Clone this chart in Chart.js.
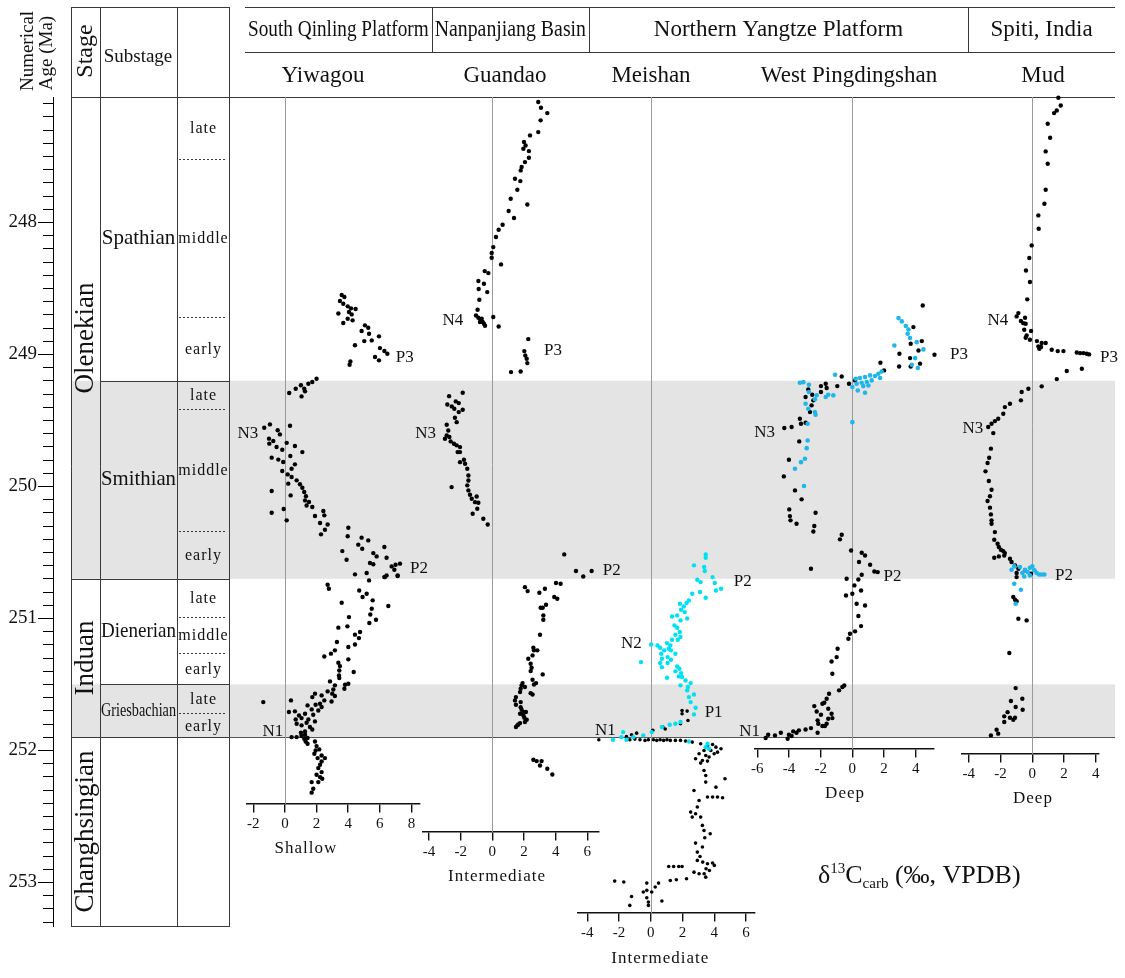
<!DOCTYPE html>
<html>
<head>
<meta charset="utf-8">
<script src="https://cdn.jsdelivr.net/npm/chart.js@4.4.1/dist/chart.umd.min.js"></script>
<style>
  html, body { margin: 0; padding: 0; background: #fff; }
  #wrap { position: relative; width: 1125px; height: 978px; overflow: hidden; }
  #wrap canvas { position: absolute; top: 0; }
</style>
</head>
<body>
<div id="wrap"><canvas id="frame" width="1125" height="978" style="left:0"></canvas></div>
<script>
const SERIF = '"Liberation Serif", "Times New Roman", serif';
const AGE_MIN = 247.05, AGE_MAX = 253.33;
const PAD_TOP = 97, PAD_BOTTOM = 52;

// time scale
const ageTickLabels = [248, 249, 250, 251, 252, 253];
const stageNames = ['Olenekian', 'Induan', 'Changhsingian'];
const stageBase = [250.7, 251.9, 253.33];
const substageNames = ['Spathian', 'Smithian', 'Dienerian', 'Griesbachian', ''];
const substageBase = [249.2, 250.7, 251.5, 251.9, 253.33];
const subdivNames = [['late', 'middle', 'early'], ['late', 'middle', 'early'], ['late', 'middle', 'early'], ['late', 'early'], []];
const subdivBounds = [[247.52, 248.72], [249.41, 250.34], [250.99, 251.265], [251.72], []];
const grayBands = [[249.2, 250.7], [251.5, 251.9]];
const ptbAge = 251.9;

const regionNames = ['South Qinling Platform', 'Nanpanjiang Basin', 'Northern Yangtze Platform', 'Spiti, India'];
const siteNames = ['Yiwagou', 'Guandao', 'Meishan', 'West Pingdingshan', 'Mud'];

// Yiwagou
const yiwagouAge = [248.55,248.565,248.595,248.616,248.636,248.651,248.656,248.679,248.69,248.697,248.73,248.742,248.762,248.78,248.798,248.823,248.843,248.899,248.894,248.863,248.931,248.952,248.974,248.995,249.02,249.045,249.053,249.078,
  249.184,249.209,249.222,249.234,249.26,249.26,249.28,249.292,249.318,249.54,249.53,249.555,249.575,249.606,249.638,249.676,249.656,249.701,249.722,249.67,
  249.694,249.74,249.782,249.797,249.815,249.77,249.833,249.866,249.883,249.909,249.929,249.979,249.954,249.984,250.01,250.042,250.075,250.035,250.068,250.106,
  250.118,250.156,250.144,250.199,250.171,250.257,250.186,250.219,250.224,250.288,250.277,250.328,250.363,250.313,250.378,250.388,250.409,250.441,250.472,250.49,
  250.555,250.459,250.505,250.53,250.54,250.58,250.59,250.606,250.593,250.585,250.631,250.674,250.686,250.656,250.666,
  250.712,250.687,250.674,250.679,250.745,250.775,250.788,250.838,250.813,250.863,250.881,250.906,250.927,250.97,251.01,251.035,250.99,251.06,251.07,251.103,
  251.123,251.149,251.197,251.217,251.179,251.242,251.267,251.288,251.31,251.336,251.361,251.394,251.406,251.432,251.452,251.477,251.507,251.502,251.495,251.533,
  251.538,251.553,251.57,251.57,251.583,251.596,251.588,251.629,251.621,251.646,251.654,251.671,251.697,251.689,251.659,251.621,251.634,251.709,251.704,251.722,
  251.73,251.735,251.755,251.765,251.765,251.78,251.79,251.798,251.81,251.823,251.841,251.856,251.866,251.881,251.891,251.899,251.899,251.906,251.911,251.932,
  251.949,251.932,251.967,252.0,251.992,252.025,252.038,252.058,252.058,252.083,252.108,252.134,252.164,252.184,252.202,252.215,252.24,252.24,252.29,252.32];
const yiwagouC = [3.59,3.76,3.48,3.69,3.97,4.18,4.47,4.05,3.38,4.22,3.97,4.28,3.69,5.06,5.27,4.85,5.32,5.02,5.49,5.95,4.43,6.01,6.29,6.48,5.70,5.95,4.14,4.09,
  2.0,1.73,1.48,1.01,1.22,0.68,1.27,0.27,1.05,0.32,-0.95,-1.31,-0.46,-0.32,-1.01,-0.99,-0.74,-0.53,-0.17,0.11,
  0.63,1.10,-0.84,-0.42,-0.11,0.34,0.63,0.42,-0.17,0.17,0.42,0.21,0.74,0.95,1.10,1.22,1.33,-0.84,0.36,1.27,
  1.52,1.73,1.37,-0.84,-0.08,0.11,2.43,2.49,1.90,2.70,2.22,2.53,2.28,4.01,3.97,4.85,5.27,4.64,4.89,3.63,
  3.90,6.29,5.59,5.80,6.43,5.38,5.59,6.75,7.0,7.28,6.92,7.13,6.33,5.17,4.43,
  5.32,6.29,6.43,7.13,2.70,2.78,4.70,4.91,5.17,5.55,3.59,6.54,5.49,5.40,5.76,5.34,4.05,3.95,3.38,4.75,
  4.43,4.68,4.43,4.01,3.29,3.16,2.91,2.49,4.01,3.38,3.48,3.44,4.35,3.42,3.44,2.85,3.16,3.80,4.01,3.76,
  3.06,2.70,2.99,1.90,2.32,1.73,3.16,2.95,2.49,2.22,1.94,2.32,2.11,1.69,1.43,0.38,-1.37,0.25,0.63,1.27,
  1.79,0.89,1.05,0.68,1.48,1.90,1.37,0.74,1.05,1.58,1.73,1.27,1.01,1.27,1.05,0.74,0.42,1.43,1.22,1.31,
  1.43,1.90,2.0,1.94,2.17,1.86,2.32,2.53,2.07,2.32,2.22,2.11,2.32,2.0,2.22,2.36,2.11,1.69,1.79,1.69];

// Guandao
const guandaoAge = [247.088,247.131,247.172,247.227,247.316,247.341,247.391,247.417,247.442,247.46,247.51,247.543,247.58,247.606,247.669,247.687,247.753,247.821,247.864,247.914,
  247.967,248.018,248.056,248.111,248.187,248.232,248.268,248.318,248.369,248.384,248.444,248.465,248.505,248.528,248.586,248.662,248.705,248.722,248.737,248.755,
  248.755,248.768,248.783,248.73,248.717,248.788,248.884,248.975,249.008,249.033,249.066,249.129,249.134,
  249.29,249.316,249.356,249.369,249.379,249.394,249.412,249.419,249.437,249.48,249.513,249.533,249.576,249.614,249.639,249.626,249.659,249.677,249.689,249.702,
  249.74,249.74,249.816,249.798,249.828,249.866,249.917,249.955,250.005,249.992,250.03,250.063,250.076,250.093,250.119,250.124,250.169,250.207,250.245,250.288,
  250.515,250.641,250.682,250.641,250.732,250.737,250.763,250.793,250.805,250.775,250.838,250.851,250.896,250.919,250.919,250.977,251.01,251.124,251.222,251.242,
  251.242,251.28,251.305,251.343,251.374,251.399,251.424,251.465,251.49,251.5,251.49,251.507,251.52,251.533,251.558,251.566,251.576,251.596,251.621,251.634,
  251.654,251.672,251.692,251.709,251.709,251.722,251.735,251.752,251.768,251.785,251.793,251.803,251.823,251.81,252.071,252.081,252.081,252.114,252.139,252.182];
const guandaoC = [2.90,3.07,3.47,3.05,2.90,2.38,2.0,2.10,1.96,2.31,2.31,2.06,1.85,1.79,1.43,1.77,1.58,1.16,2.21,1.03,
  1.37,0.65,0.40,0.23,0.06,-0.04,-0.04,0.55,-0.48,-0.25,-0.88,-0.53,-0.86,-0.32,-0.82,-0.93,-1.03,-0.88,-0.74,-0.61,
  -0.78,-0.53,-0.46,-0.67,0.06,0.40,2.27,2.02,2.08,2.17,2.21,1.79,1.18,
  -1.87,-2.73,-2.31,-2.12,-2.84,-2.56,-2.40,-1.87,-2.12,-2.36,-2.25,-2.88,-2.78,-2.88,-2.99,-2.71,-2.63,-2.42,-2.25,-2.04,
  -2.19,-2.04,-2.04,-1.79,-1.72,-1.58,-1.51,-1.51,-2.57,-1.58,-1.51,-1.41,-0.99,-1.30,-1.09,-0.88,-0.95,-1.24,-0.57,-0.29,
  4.54,5.28,5.74,6.27,4.02,4.31,2.06,2.23,2.97,3.32,3.91,4.10,3.39,3.18,3.05,3.22,3.22,3.01,2.59,2.63,
  2.84,2.54,2.27,2.42,2.48,2.42,3.18,2.54,2.76,2.63,1.91,1.85,2.06,1.79,1.75,2.42,2.54,1.49,1.43,1.79,
  1.49,1.79,1.85,1.96,2.12,1.75,1.96,2.02,2.17,2.06,1.75,1.64,1.49,1.58,2.59,2.80,3.11,3.01,3.47,3.79];

// Meishan
const meishanCyanAge = [250.515,250.54,250.598,250.611,250.641,250.687,250.707,250.725,250.732,250.775,250.788,250.8,250.813,250.843,250.864,250.884,250.889,250.909,250.934,250.952,
  250.985,250.977,251.0,251.015,251.053,251.071,251.103,251.124,251.141,251.162,251.162,251.187,251.205,251.197,251.205,251.222,251.23,251.242,251.242,251.268,
  251.268,251.293,251.305,251.313,251.331,251.338,251.338,251.369,251.364,251.381,251.401,251.414,251.449,251.439,251.444,251.47,251.507,251.52,251.49,251.545,
  251.576,251.596,251.634,251.677,251.727,251.785,251.798,251.806,251.823,251.861,251.886,251.899,251.919,251.861,251.899,251.919,251.932,251.949,251.975,251.987];
const meishanCyanC = [3.46,3.46,2.72,3.36,3.40,3.89,2.93,3.14,4.03,4.42,4.10,3.10,2.61,3.46,2.40,2.25,1.83,2.08,1.91,2.14,
  1.34,1.66,2.29,1.87,1.49,1.66,1.83,1.55,1.87,1.70,1.34,1.02,1.23,0.02,0.42,0.59,1.13,0.85,1.27,1.55,
  0.66,1.06,0.70,1.27,-0.62,0.59,1.06,0.70,1.66,1.80,1.55,1.91,1.02,1.76,1.97,2.19,1.87,2.34,2.51,2.29,
  2.72,2.40,2.51,2.82,2.72,1.87,1.55,1.19,0.70,0.06,-0.47,-1.10,-1.53,-1.74,-1.85,-2.38,2.40,3.57,3.46,3.67];
const meishanAge = [251.697,251.722,251.702,251.773,251.798,251.823,251.838,251.848,251.869,251.881,251.894,251.919,
  251.919,251.914,251.919,251.924,251.919,251.919,251.924,251.919,251.924,251.919,251.924,251.924,251.924,251.929,251.937,
  251.949,251.962,251.955,251.975,251.987,252.0,252.0,252.025,252.013,252.025,252.038,252.05,252.063,252.076,252.081,252.096,
  252.152,252.19,252.24,252.215,252.278,252.303,252.353,252.353,252.358,252.353,252.379,252.429,252.467,252.48,252.505,252.505,252.568,252.606,252.631,252.662,
  252.702,252.732,252.77,252.803,252.833,252.846,252.858,252.853,252.871,252.896,252.909,252.934,252.934,252.96,252.922,
  252.879,252.879,252.879,252.879,252.972,252.98,252.985,252.99,252.997,253.005,253.005,253.035,253.06,253.073,253.073,253.106,253.116,253.141,253.149,253.174,253.174];
const meishanC = [1.97,1.97,2.29,2.34,1.87,0.76,0.91,0.13,-0.89,-1.21,-1.53,-3.27,
  -1.32,-1.0,-0.68,-0.36,-0.15,0.17,0.38,0.59,0.81,1.02,1.23,1.55,1.87,2.19,2.61,
  3.14,3.57,3.89,4.10,4.42,3.35,3.78,3.99,4.20,3.04,3.46,3.67,2.82,3.25,3.57,3.14,
  3.35,3.46,3.46,4.67,4.10,2.72,3.89,4.20,4.52,3.57,3.04,2.93,2.51,2.82,3.14,2.61,3.25,3.35,3.74,3.40,
  2.82,3.25,2.93,3.10,2.93,3.27,3.57,3.89,4.0,3.48,3.69,3.36,3.04,3.46,2.72,
  1.13,1.44,1.76,1.97,2.25,1.61,1.23,-2.27,-1.70,-0.25,0.49,0.28,-0.25,0.06,-0.47,-1.21,-0.25,0.70,-0.15,-1.32,-0.15];

// West Pingdingshan
const wpCyanAge = [248.725,248.75,248.785,248.811,248.843,248.876,248.907,248.932,248.962,249.028,249.103,249.078,248.995,249.129,249.146,249.164,249.159,249.172,249.179,249.184,
  249.179,249.197,249.209,249.215,249.222,249.235,249.24,249.247,249.273,249.29,249.154,249.215,249.21,249.23,249.285,249.31,249.34,249.374,249.412,249.437,
  249.457,249.525,249.323,249.306,249.31,249.513,249.652,249.71,249.79,249.816,249.866,249.997];
const wpCyanC = [2.91,3.12,3.37,3.54,3.49,3.64,4.06,2.65,4.48,3.96,4.13,3.75,5.68,1.85,1.64,1.43,1.12,0.80,0.48,0.21,
  1.75,1.22,0.91,0.59,0.27,1.01,0.69,0.0,0.34,0.80,-1.09,-3.31,-3.09,-2.74,-2.74,-2.25,-2.36,-2.95,-2.78,-2.36,
  -2.32,-2.82,-1.68,-1.52,-1.20,0.0,-2.82,-2.88,-2.99,-3.24,-3.62,-3.05];
const wpAge = [248.629,248.793,248.899,248.919,248.97,248.995,249.028,249.002,249.07,249.091,249.091,249.063,249.121,249.167,249.222,249.197,249.24,249.222,249.24,249.255,
  249.285,249.265,249.306,249.323,249.348,249.386,249.437,249.487,249.525,249.518,249.558,249.55,249.659,249.798,249.924,250.03,250.098,250.174,250.225,250.257,
  250.283,250.2,250.3,250.341,250.366,250.401,250.624,250.485,250.502,250.523,250.573,250.593,250.644,250.649,250.669,250.705,250.699,250.75,250.788,250.813,
  250.826,250.902,250.889,250.982,251.058,251.098,251.116,251.154,251.23,251.293,251.326,251.419,251.545,251.508,251.52,251.571,251.609,251.639,251.646,251.664,
  251.705,251.73,251.684,251.722,251.755,251.76,251.772,251.798,251.815,251.815,251.798,251.866,251.831,251.841,251.848,251.866,251.856,251.881,251.912,251.891,
  251.866,251.886,251.881,251.906];
const wpC = [4.44,3.85,4.38,3.68,4.17,2.97,3.64,5.18,4.27,3.68,2.95,1.77,2.0,-0.67,-0.21,0.17,-0.95,-1.68,-1.98,-1.62,
  -1.98,-2.78,-2.53,-2.95,-2.46,-2.57,-2.67,-3.31,-3.24,-2.95,-4.29,-3.83,-3.35,-4.0,-4.32,-3.62,-3.20,-3.98,-3.94,-3.90,
  -3.52,-2.32,-2.40,-2.46,-0.67,-0.78,-2.61,-0.08,0.59,0.80,0.42,1.12,1.39,1.60,0.59,0.38,-0.36,0.13,0.55,0.0,
  -0.40,0.80,0.27,0.38,0.55,0.17,-0.15,-0.25,-0.93,-0.99,-1.31,-1.26,-0.84,-0.51,-0.63,-1.47,-1.62,-1.77,-1.89,-2.40,
  -2.25,-1.98,-1.52,-1.31,-1.26,-1.52,-2.19,-2.15,-1.89,-1.73,-1.62,-2.19,-2.61,-2.95,-3.37,-3.52,-3.73,-4.0,-4.08,-3.83,
  -4.51,-4.88,-5.31,-5.47];

// Mud (Spiti)
const mudAge = [247.056,247.114,247.152,247.172,247.253,247.359,247.462,247.556,247.753,247.859,247.947,248.048,248.174,248.27,248.364,248.452,248.583,248.687,248.712,248.722,
  248.747,248.763,248.768,248.813,248.823,248.856,248.874,248.889,248.899,248.914,248.914,248.939,248.944,248.957,248.965,248.975,248.975,248.985,248.99,248.99,
  248.995,249.0,249.109,249.126,249.187,249.242,249.26,249.285,249.348,249.374,249.399,249.449,249.487,
  249.505,249.525,249.55,249.596,249.714,249.783,249.823,249.886,249.959,250.025,250.075,250.111,250.161,250.212,250.257,250.283,250.346,250.404,250.434,250.459,
  250.48,250.49,250.505,250.523,250.53,250.54,250.548,250.573,250.598,250.624,250.687,250.838,250.858,250.869,251.002,251.015,251.262,251.528,251.608,251.626,
  251.671,251.692,251.71,251.742,251.752,251.768,251.752,251.785,251.843,251.873,251.886,250.661,250.636,250.656];
const mudC = [1.64,1.79,1.54,1.37,0.97,1.12,0.84,0.97,0.84,0.76,0.38,0.40,-0.04,-0.19,-0.40,-0.15,-0.32,-0.88,-0.99,-0.46,
  -0.72,-0.57,-0.42,-0.51,-0.08,-0.36,-0.42,-0.15,0.29,0.59,0.84,0.38,0.55,0.44,1.22,1.60,1.96,2.80,3.01,3.22,
  3.43,3.58,3.12,2.17,1.54,0.59,-0.25,-0.67,-0.72,-1.41,-1.73,-1.83,-2.15,
  -2.36,-2.57,-2.78,-2.46,-2.61,-2.72,-2.82,-2.95,-2.74,-2.57,-2.67,-2.82,-2.67,-2.61,-2.57,-2.57,-2.36,-2.40,-2.19,-2.11,
  -1.98,-1.83,-1.73,-1.77,-2.11,-2.40,-1.41,-1.31,-1.09,-0.88,-0.99,-1.20,-1.09,-0.99,-0.88,-0.36,-1.45,-1.05,-0.63,-1.35,
  -1.05,-0.61,-1.56,-1.77,-1.41,-1.20,-1.09,-1.77,-2.25,-2.15,-2.61,-0.08,-0.46,-0.99];
const mudCyanAge = [250.631,250.606,250.611,250.631,250.656,250.682,250.649,250.616,250.606,250.636,250.656,250.667,250.667,250.667,250.674,250.737,250.783,250.889];
const mudCyanC = [-1.31,-1.14,-0.78,-0.46,-0.63,-0.51,-0.29,-0.15,0.0,0.13,0.27,0.42,0.59,0.76,-0.15,-1.14,-0.72,-1.05];

// page layout (pixels)
const COL = [71, 100, 177, 229];
const RIGHT = 1115, HEAD_L = 245, TOP = 7, HEAD_MID = 52;
const regionEdges = [245, 431.7, 589, 968, 1115];
const siteCenters = [323, 505, 651, 849, 1043];

const wrap = document.getElementById('wrap');

function line(ctx, x0, y0, x1, y1) {
  ctx.beginPath(); ctx.moveTo(x0, y0); ctx.lineTo(x1, y1); ctx.stroke();
}
function crisp(v) { return Math.round(v) + 0.5; }

function vText(ctx, text, x, y, font, maxW) {
  ctx.save();
  ctx.translate(x, y);
  ctx.rotate(-Math.PI / 2);
  ctx.font = font;
  ctx.textAlign = 'center';
  ctx.textBaseline = 'middle';
  ctx.fillText(text, 0, 0, maxW);
  ctx.restore();
}

const frameDecor = {
  id: 'frameDecor',
  beforeDraw(chart) {
    const { ctx } = chart;
    const y = v => chart.scales.y.getPixelForValue(v);
    ctx.save();
    // grey bands
    ctx.fillStyle = '#e4e4e4';
    grayBands.forEach(([a, b]) => ctx.fillRect(COL[0], y(a), RIGHT - COL[0], y(b) - y(a)));

    ctx.strokeStyle = '#3a3a3a';
    ctx.lineWidth = 1;
    const yTop = crisp(y(AGE_MIN)), yBot = crisp(y(AGE_MAX));
    COL.forEach(c => line(ctx, crisp(c), TOP, crisp(c), yBot));
    line(ctx, COL[0], crisp(TOP), COL[3] + 1, crisp(TOP));
    line(ctx, COL[0], yTop, RIGHT, yTop);
    line(ctx, COL[0], yBot, COL[3] + 1, yBot);
    // header
    line(ctx, HEAD_L, crisp(TOP), RIGHT, crisp(TOP));
    line(ctx, HEAD_L, crisp(HEAD_MID), RIGHT, crisp(HEAD_MID));
    regionEdges.slice(1, -1).forEach(e => line(ctx, crisp(e), TOP, crisp(e), HEAD_MID));
    // stage / substage boundaries
    stageBase.slice(0, -1).forEach(b => line(ctx, COL[0], crisp(y(b)), COL[3], crisp(y(b))));
    substageBase.slice(0, -1).forEach(b => line(ctx, COL[1], crisp(y(b)), COL[3], crisp(y(b))));
    ctx.setLineDash([2, 2]);
    subdivBounds.flat().forEach(b => line(ctx, COL[2] + 2, crisp(y(b)), COL[3] - 2, crisp(y(b))));
    ctx.setLineDash([]);
    // Permian-Triassic boundary across the sections
    ctx.strokeStyle = '#555';
    line(ctx, COL[3], crisp(y(ptbAge)), RIGHT, crisp(y(ptbAge)));

    // texts
    ctx.fillStyle = '#111';
    let top = AGE_MIN;
    stageNames.forEach((n, i) => {
      vText(ctx, n, 86, (y(top) + y(stageBase[i])) / 2, '27px ' + SERIF);
      top = stageBase[i];
    });
    vText(ctx, 'Stage', 86, 51, '24px ' + SERIF);
    vText(ctx, 'Numerical', 28, 51, '19px ' + SERIF);
    vText(ctx, 'Age (Ma)', 47, 53, '19px ' + SERIF);

    ctx.textAlign = 'center';
    ctx.textBaseline = 'middle';
    ctx.font = '19px ' + SERIF;
    ctx.fillText('Substage', 138, 57, 74);
    top = AGE_MIN;
    substageNames.forEach((n, i) => {
      const base = substageBase[i];
      if (n) {
        ctx.font = (n === 'Griesbachian' ? '18px ' : '21px ') + SERIF;
        ctx.fillText(n, 138.5, (y(top) + y(base)) / 2, 75);
      }
      const edges = [top, ...subdivBounds[i], base];
      ctx.font = '16px ' + SERIF;
      ctx.letterSpacing = '1px';
      subdivNames[i].forEach((s, j) => {
        ctx.fillText(s, 203.5, (y(edges[j]) + y(edges[j + 1])) / 2 + 1);
      });
      ctx.letterSpacing = '0px';
      top = base;
    });

    // section header
    regionNames.forEach((n, i) => {
      const x0 = regionEdges[i], x1 = regionEdges[i + 1];
      ctx.font = '23px ' + SERIF;
      ctx.fillText(n, (x0 + x1) / 2, 30, x1 - x0 - 6);
    });
    ctx.font = '23px ' + SERIF;
    siteNames.forEach((n, i) => ctx.fillText(n, siteCenters[i], 76));

    // isotope label
    ctx.textAlign = 'left';
    ctx.textBaseline = 'alphabetic';
    let x = 818;
    const base = 883;
    const put = (t, f, dy) => { ctx.font = f; ctx.fillText(t, x, base + dy); x += ctx.measureText(t).width; };
    put('\u03b4', '26px ' + SERIF, 0);
    put('13', '15px ' + SERIF, -10);
    put('C', '26px ' + SERIF, 0);
    put('carb', '15px ' + SERIF, 5);
    put(' (\u2030, VPDB)', '26px ' + SERIF, 0);
    ctx.restore();
  },
  afterDraw(chart) {
    // longer ticks at whole millions of years
    const { ctx } = chart;
    const sc = chart.scales.y;
    ctx.save();
    ctx.strokeStyle = '#000';
    ctx.lineWidth = 1;
    ageTickLabels.forEach(v => {
      const yy = crisp(sc.getPixelForValue(v));
      line(ctx, sc.right - 15, yy, sc.right - 9, yy);
    });
    ctx.restore();
  }
};

new Chart(document.getElementById('frame'), {
  type: 'scatter',
  data: { datasets: [] },
  options: {
    responsive: false,
    animation: false,
    events: [],
    layout: { padding: { left: 0, right: 10, top: PAD_TOP, bottom: PAD_BOTTOM } },
    plugins: { legend: { display: false }, tooltip: { enabled: false } },
    scales: {
      x: { display: false, min: 0, max: 1 },
      y: {
        type: 'linear',
        min: AGE_MIN,
        max: AGE_MAX,
        reverse: true,
        afterFit(scale) { scale.width = 53; },
        border: { color: '#000', width: 1 },
        grid: { drawOnChartArea: false, color: '#000', tickLength: 10 },
        ticks: {
          stepSize: 0.1,
          includeBounds: false,
          autoSkip: false,
          padding: 6,
          color: '#111',
          font: { family: SERIF, size: 19 },
          callback(v) {
            const r = Math.round(v * 10) / 10;
            return ageTickLabels.includes(r) ? String(r) : '';
          }
        }
      }
    }
  },
  plugins: [frameDecor]
});

// one Chart per section, sharing the same age scale
const panels = [
  { from: 246.7, to: 419.3, min: -2.42, max: 8.5, axisAge: 252.404, title: 'Shallow', titleAt: 1.33,
    series: [{ age: yiwagouAge, c: yiwagouC, color: '#000', r: 2.2 }],
    notes: [['P3', 7.01, 249.02, 'left'], ['N3', -1.69, 249.6, 'right'], ['P2', 7.91, 250.62, 'left'], ['N1', -0.11, 251.86, 'right']] },
  { from: 422.3, to: 598.3, min: -4.42, max: 6.69, axisAge: 252.618, title: 'Intermediate', titleAt: 0.3,
    series: [{ age: guandaoAge, c: guandaoC, color: '#000', r: 2.2 }],
    notes: [['N4', -1.83, 248.742, 'right'], ['P3', 3.26, 248.97, 'left'], ['N3', -3.55, 249.6, 'right'], ['P2', 6.97, 250.64, 'left']] },
  { from: 578, to: 755, min: -4.58, max: 6.56, axisAge: 253.232, title: 'Intermediate', titleAt: 0.6,
    series: [{ age: meishanCyanAge, c: meishanCyanC, color: '#00e1f2', r: 2.2 },
             { age: meishanAge, c: meishanC, color: '#000', r: 1.8 }],
    notes: [['P2', 5.22, 250.717, 'left'], ['N2', -0.57, 251.187, 'right'], ['P1', 3.39, 251.71, 'left'], ['N1', -2.21, 251.85, 'right']] },
  { from: 755, to: 934, min: -6.14, max: 5.15, axisAge: 251.989, title: 'Deep', titleAt: -0.46,
    series: [{ age: wpCyanAge, c: wpCyanC, color: '#1fb6ea', r: 2.3 },
             { age: wpAge, c: wpC, color: '#000', r: 2.2 }],
    notes: [['P3', 6.16, 249.0, 'left'], ['N3', -4.88, 249.59, 'right'], ['P2', 1.96, 250.68, 'left'], ['N1', -5.82, 251.86, 'right']] },
  { from: 961.7, to: 1099, min: -4.45, max: 4.2, axisAge: 252.027, title: 'Deep', titleAt: 0.04,
    series: [{ age: mudCyanAge, c: mudCyanC, color: '#1fb6ea', r: 2.3 },
             { age: mudAge, c: mudC, color: '#000', r: 2.2 }],
    notes: [['N4', -1.51, 248.742, 'right'], ['P3', 4.27, 249.02, 'left'], ['N3', -3.09, 249.56, 'right'], ['P2', 1.43, 250.674, 'left']] }
];

function panelDecor(p) {
  return {
    id: 'panelDecor',
    beforeDatasetsDraw(chart) {
      const { ctx, scales: { x, y } } = chart;
      const zx = crisp(x.getPixelForValue(0));
      ctx.save();
      ctx.strokeStyle = '#9a9a9a';
      ctx.lineWidth = 1;
      line(ctx, zx, y.getPixelForValue(AGE_MIN), zx, y.getPixelForValue(p.axisAge));
      ctx.restore();
    },
    afterDraw(chart) {
      const { ctx, scales: { x, y } } = chart;
      ctx.save();
      ctx.fillStyle = '#111';
      ctx.textBaseline = 'middle';
      ctx.font = '17px ' + SERIF;
      p.notes.forEach(([t, v, a, align]) => {
        ctx.textAlign = align;
        ctx.fillText(t, x.getPixelForValue(v), y.getPixelForValue(a));
      });
      ctx.textAlign = 'center';
      ctx.letterSpacing = '1px';
      ctx.fillText(p.title, x.getPixelForValue(p.titleAt), y.getPixelForValue(p.axisAge) + 45);
      ctx.restore();
    }
  };
}

panels.forEach(p => {
  const cv = document.createElement('canvas');
  const left = Math.floor(p.from) - 50;
  const right = Math.ceil(p.to) + 50;
  cv.width = right - left;
  cv.height = 978;
  cv.style.left = left + 'px';
  wrap.appendChild(cv);
  new Chart(cv, {
    type: 'scatter',
    data: {
      datasets: p.series.map(s => ({
        data: s.age.map((a, i) => ({ x: s.c[i], y: a })),
        backgroundColor: s.color,
        borderWidth: 0,
        pointRadius: s.r,
        clip: false
      }))
    },
    options: {
      responsive: false,
      animation: false,
      events: [],
      layout: { padding: { left: p.from - left, right: right - p.to, top: PAD_TOP, bottom: PAD_BOTTOM } },
      plugins: { legend: { display: false }, tooltip: { enabled: false } },
      scales: {
        x: {
          type: 'linear',
          min: p.min,
          max: p.max,
          position: { y: p.axisAge },
          border: { color: '#111', width: 1.4 },
          grid: { drawOnChartArea: false, color: '#111', lineWidth: 1.4, tickLength: 8 },
          ticks: { stepSize: 2, includeBounds: false, autoSkip: false, maxRotation: 0, padding: 3,
                   color: '#111', font: { family: SERIF, size: 15 } }
        },
        y: { type: 'linear', min: AGE_MIN, max: AGE_MAX, reverse: true, display: false }
      }
    },
    plugins: [panelDecor(p)]
  });
});
</script>
</body>
</html>
